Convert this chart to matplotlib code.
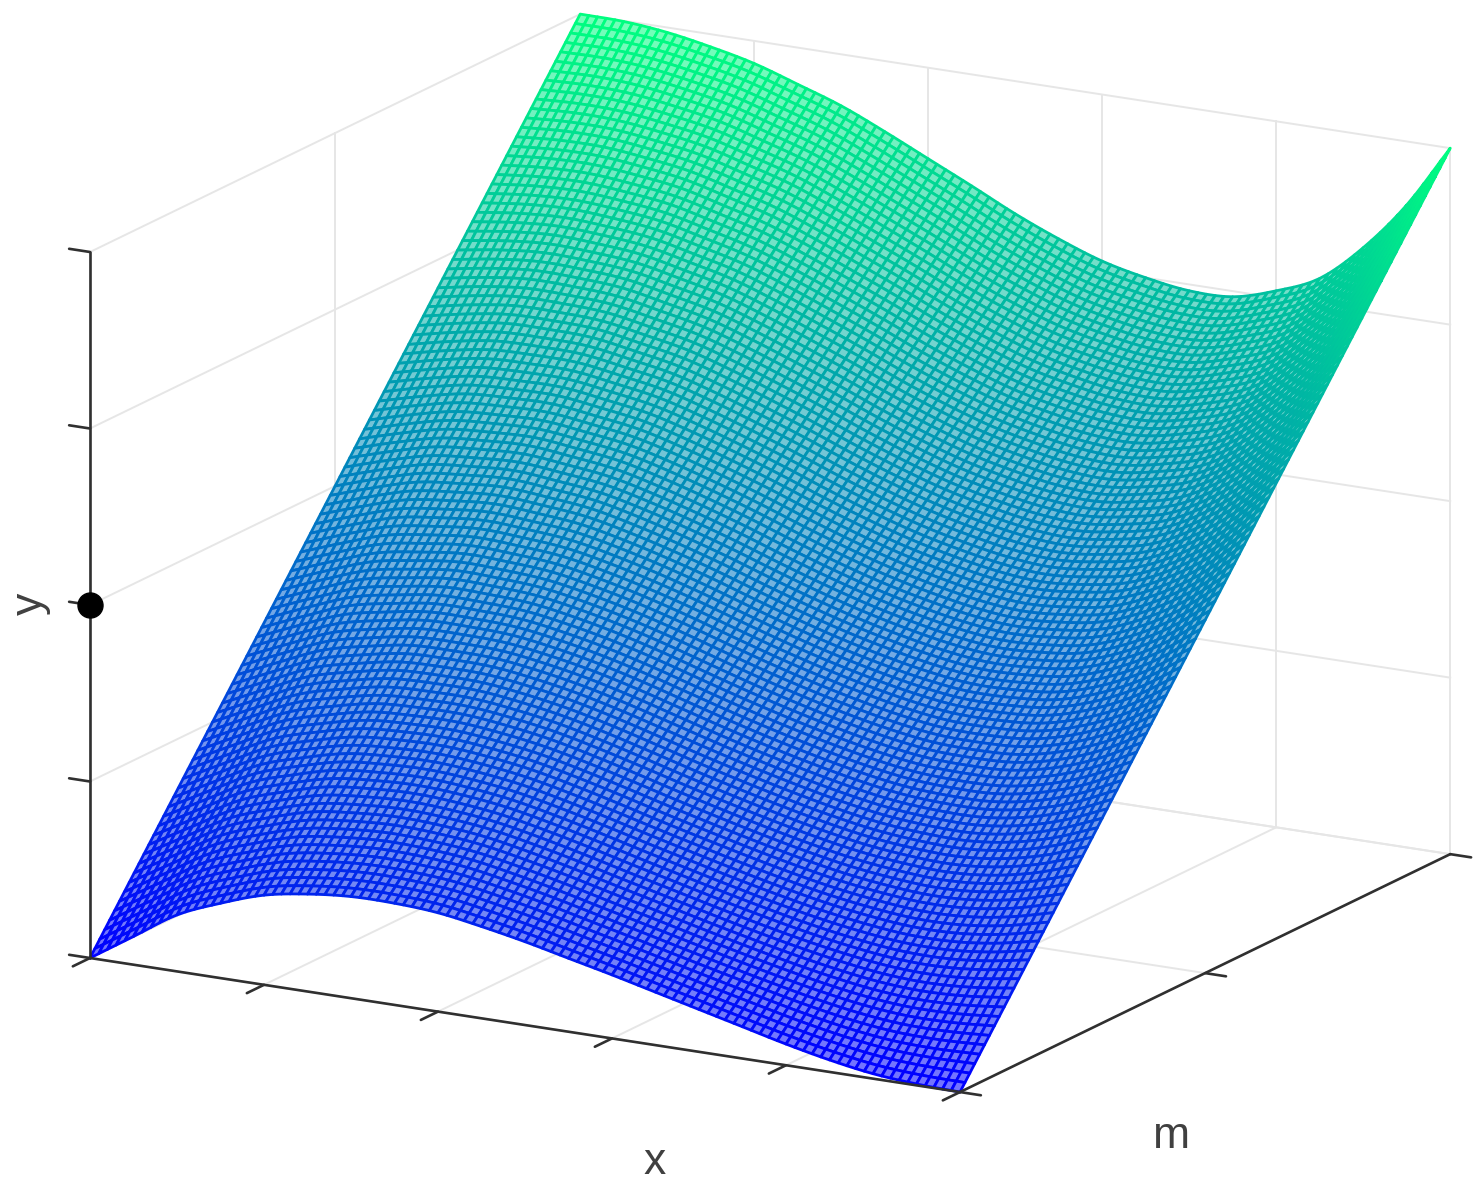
import numpy as np
import matplotlib
matplotlib.use("Agg")
import matplotlib.pyplot as plt
from mpl_toolkits.mplot3d import proj3d

x_samples = [0, .05, .1, .15, .2, .25, .3, .35, .4, .45, .5, .55, .6, .65, .7, .75, .8, .85, .9, .95, 1]
m_samples = [0, .5, 1]
y_front = [0, .040, .080, .106, .127, .138, .144, .144, .140, .130, .118, .104, .090, .075, .060, .045, .030, .017, .007, .002, 0]
y_mid = [.5, .520, .537, .544, .548, .543, .536, .522, .505, .486, .465, .445, .427, .412, .400, .393, .395, .403, .424, .456, .5]
y_back = [1.0, .999, .993, .982, .968, .948, .927, .900, .871, .842, .812, .786, .764, .750, .741, .742, .760, .787, .840, .910, 1.0]
x_ticks = [0, .2, .4, .6, .8, 1]
m_ticks = [0, .5, 1]
y_ticks = [0, .25, .5, .75, 1]
marked_point_y = 0.5
x_label, m_label, y_label = "x", "m", "y"

W, H, DPI = 1481, 1196, 100
MESH = 100
GRID = "#e6e6e6"
AXC = "#303030"
TXT = "#404040"
plt.rcParams["font.family"] = ["Liberation Sans", "DejaVu Sans"]

fig = plt.figure(figsize=(W / DPI, H / DPI), dpi=DPI, facecolor="white")
ax = fig.add_axes([0, 0, 1, 1], projection="3d", proj_type="ortho", computed_zorder=False)
ax.view_init(elev=15.87, azim=-60.6)
ax.set_xlim(0, 1, view_margin=0)
ax.set_ylim(0, 1, view_margin=0)
ax.set_zlim(0, 1, view_margin=0)
ax.set_axis_off()
ax.patch.set_alpha(0)


def smooth_through(t, knots, values):
    """Cubic Hermite curve through the read values, used only to place mesh vertices."""
    knots = np.asarray(knots, float)
    values = np.asarray(values, float)
    slopes = np.gradient(values, knots)
    i = np.clip(np.searchsorted(knots, t, side="right") - 1, 0, knots.size - 2)
    h = knots[i + 1] - knots[i]
    s = (t - knots[i]) / h
    return ((2 * s**3 - 3 * s**2 + 1) * values[i] + (s**3 - 2 * s**2 + s) * h * slopes[i]
            + (-2 * s**3 + 3 * s**2) * values[i + 1] + (s**3 - s**2) * h * slopes[i + 1])


# mesh vertices, subdivided from the table above for drawing only
table = np.array([y_front, y_mid, y_back])
xs = np.linspace(0, 1, MESH + 1)
ms = np.linspace(0, 1, MESH + 1)
by_x = np.array([smooth_through(xs, x_samples, row) for row in table])
Z = np.array([np.interp(ms, m_samples, by_x[:, j]) for j in range(xs.size)]).T
X, M = np.meshgrid(xs, ms)


def seg(p, q, **kw):
    ax.plot([p[0], q[0]], [p[1], q[1]], [p[2], q[2]], clip_on=False, **kw)


# grid
g = dict(color=GRID, lw=1.4, zorder=1)
for xv in x_ticks:
    seg((xv, 0, 0), (xv, 1, 0), **g)
    seg((xv, 1, 0), (xv, 1, 1), **g)
for mv in m_ticks:
    seg((0, mv, 0), (1, mv, 0), **g)
    seg((0, mv, 0), (0, mv, 1), **g)
for yv in y_ticks:
    seg((0, 0, yv), (0, 1, yv), **g)
    seg((0, 1, yv), (1, 1, yv), **g)

# mesh: coloured edges over pale cell faces (the holes of the mesh look tinted in the reference)
cell = (Z[:-1, :-1] + Z[1:, 1:] + Z[:-1, 1:] + Z[1:, :-1]) / 4
rgba = plt.get_cmap("winter")(np.clip(cell.ravel(), 0, 1))
pale = rgba.copy()
pale[:, :3] = rgba[:, :3] * 0.55 + 0.45
surf = ax.plot_surface(X, M, Z, rstride=1, cstride=1, color="white", shade=False,
                       linewidth=2.0, antialiased=True, zorder=2)
surf.set_facecolor(pale)
surf.set_edgecolor(rgba)
surf.set_clip_on(False)

# axes lines and ticks
a = dict(color=AXC, lw=1.9, zorder=3, solid_capstyle="round")
seg((0, 0, 0), (1, 0, 0), **a)
seg((1, 0, 0), (1, 1, 0), **a)
seg((0, 0, 0), (0, 0, 1), **a)
for xv in x_ticks:
    seg((xv, 0, 0), (xv, -0.035, 0), **a)
for mv in m_ticks:
    seg((1, mv, 0), (1.024, mv, 0), **a)
for yv in y_ticks:
    seg((0, 0, yv), (-0.024, 0, yv), **a)
ax.plot([0], [0], [marked_point_y], "o", color="black", ms=18, zorder=4, clip_on=False)

# fit the projection to the reference corners
target_o = np.array([90.0, H - 958.0])
target_f = np.array([960.0, H - 1092.0])


def px(p):
    u, v, _ = proj3d.proj_transform(p[0], p[1], p[2], ax.get_proj())
    return ax.transData.transform((u, v))


aspect = (1, 1, 0.735)
ax.set_box_aspect(aspect, zoom=1.0)
fig.canvas.draw()
scale = (target_f[0] - target_o[0]) / (px((1, 0, 0))[0] - px((0, 0, 0))[0])
ax.set_box_aspect(aspect, zoom=scale)
fig.canvas.draw()
d = target_o - px((0, 0, 0))
ax.set_position([d[0] / W, d[1] / H, 1, 1])
fig.canvas.draw()


# labels
def label(s, x, y, **kw):
    fig.text(x / W, 1 - y / H, s, ha="center", va="center", color=TXT, fontsize=32, **kw)


label(x_label, 655, 1162)
label(m_label, 1171, 1137)
label(y_label, 30, 604, rotation=90)

fig.savefig("out.png", dpi=DPI, facecolor="white")
